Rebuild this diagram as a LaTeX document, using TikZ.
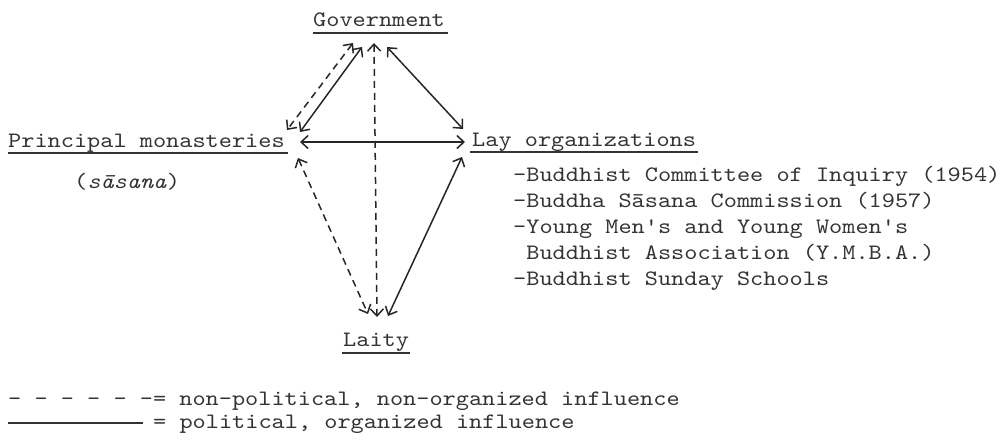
\documentclass[tikz,border=0pt]{standalone}
\usepackage{fontspec}
\usetikzlibrary{arrows.meta}
\newfontfamily\tw{lmmono10-regular.otf}[FakeStretch=1.14,ItalicFont=lmmono10-italic.otf,ItalicFeatures={FakeStretch=1.14}]
\begin{document}
\begin{tikzpicture}[x=1pt,y=-1pt,
  lbl/.style={inner sep=0pt,anchor=base west,font=\tw\fontsize{22}{26}\selectfont,text=black!80},
  link/.style={draw=black!85,line width=1.5pt,{Straight Barb[length=7pt,width=13pt]}-{Straight Barb[length=7pt,width=13pt]}},
  dlink/.style={link,dash pattern=on 7pt off 5pt},
  uline/.style={draw=black!80,line width=1.2pt}]
\useasboundingbox (0,0) rectangle (1004,445);
% labels
\node[lbl] (gov) at (313,26) {Government};
\node[lbl] (pm) at (8,147) {Principal monasteries};
\node[lbl] (sas) at (74,188) {(\itshape s\=asana\/\upshape)};
\node[lbl] (lay) at (472,146) {Lay organizations};
\node[lbl,align=left,anchor=north west] (list) at (513,166) {-Buddhist Committee of Inquiry (1954)\\-Buddha S\=asana Commission (1957)\\-Young Men's and Young Women's\\\hphantom{-}Buddhist Association (Y.M.B.A.)\\-Buddhist Sunday Schools};
\node[lbl] (laity) at (343,346) {Laity};
\node[lbl] (leg1) at (8,405) {- - - - - -= non-political, non-organized influence};
\node[lbl] (leg2) at (153,428) {= political, organized influence};
% underlines
\draw[uline] ([yshift=-7pt]gov.base west) -- ([xshift=3pt,yshift=-7pt]gov.base east);
\draw[uline] ([yshift=-6pt]pm.base west) -- ([xshift=3pt,yshift=-6pt]pm.base east);
\draw[uline] ([xshift=-2pt,yshift=-6pt]lay.base west) -- ([xshift=2pt,yshift=-6pt]lay.base east);
\draw[uline] ([xshift=-1pt,yshift=-7pt]laity.base west) -- ([xshift=1pt,yshift=-7pt]laity.base east);
\coordinate (s1) at (8,423);
\draw[uline] (s1) -- ([xshift=-10pt,yshift=5pt]leg2.base west);
% connector end points
\coordinate (g1) at (353,43);  \coordinate (p1) at (287,130);
\coordinate (g2) at (362,47);  \coordinate (p2) at (300,132);
\coordinate (g3) at (374,43);  \coordinate (l3) at (377,317);
\coordinate (g4) at (387,47);  \coordinate (o4) at (463,129);
\coordinate (p5) at (300,142); \coordinate (o5) at (465,142);
\coordinate (p6) at (298,158); \coordinate (l6) at (368,314);
\coordinate (o7) at (462,157); \coordinate (l7) at (388,316);
% connectors
\draw[dlink] (g1) -- (p1);
\draw[link] (g2) -- (p2);
\draw[dlink] (g3) -- (l3);
\draw[link] (g4) -- (o4);
\draw[link] (p5) -- (o5);
\draw[dlink] (p6) -- (l6);
\draw[link] (o7) -- (l7);
\end{tikzpicture}
\end{document}
